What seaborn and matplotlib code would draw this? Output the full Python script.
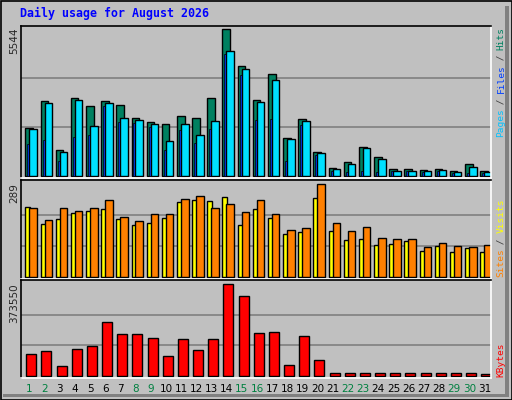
import matplotlib
matplotlib.use("Agg")
import numpy as np
import seaborn as sns
from matplotlib import pyplot as plt
import matplotlib.patches as mpatches

days = list(range(1, 32))
weekend = [1, 2, 8, 9, 15, 16, 22, 23, 29, 30]
hits = [1810, 2828, 980, 2941, 2640, 2828, 2677, 2187, 2036, 1961, 2263, 2187, 2941, 5544, 4148, 2866,
        3846, 1433, 2150, 905, 302, 528, 1094, 717, 264, 264, 226, 264, 189, 453, 189]
files = [1772, 2753, 905, 2866, 1886, 2753, 2187, 2112, 1961, 1320, 1961, 1546, 2074, 4714, 4035, 2791,
         3620, 1395, 2074, 867, 264, 453, 1056, 641, 189, 189, 189, 226, 151, 339, 151]
pages = [1207, 1358, 566, 1471, 1546, 2640, 2036, 1999, 1848, 980, 1735, 1244, 1772, 4601, 3809, 2112,
         2150, 566, 1923, 792, 189, 151, 189, 151, 189, 189, 151, 189, 113, 113, 113]
visits = [217, 164, 179, 198, 204, 211, 179, 161, 167, 183, 233, 239, 236, 248, 161, 211,
          183, 132, 139, 245, 142, 114, 117, 98, 101, 111, 79, 95, 76, 89, 76]
sites = [214, 176, 214, 204, 214, 239, 186, 173, 195, 195, 242, 251, 214, 226, 201, 239,
         195, 145, 151, 289, 167, 142, 154, 120, 117, 117, 92, 104, 95, 92, 98]
kbytes = [88615, 99521, 38172, 107701, 119970, 218128, 169049, 169049, 152690, 79071, 148600, 103611,
          148600, 373550, 324465, 173139, 177229, 42262, 160869, 62712] + [10906] * 10 + [5453]

sns.set_style("white")
plt.rcParams['font.family'] = ['DejaVu Sans']
BG = '#c0c0c0'
W, H = 512, 400
fig = plt.figure(figsize=(W / 100, H / 100), dpi=100, facecolor=BG)

# outer bevelled frame
fig.patches.append(mpatches.Rectangle((0.5 / W, 0.5 / H), 1 - 1 / W, 1 - 1 / H, transform=fig.transFigure,
                                      fill=False, ec='black', lw=1.2))
fig.patches.append(mpatches.Rectangle((505 / W, 3 / H), 4 / W, 391 / H, transform=fig.transFigure,
                                      fc='#808080', ec='none'))
fig.patches.append(mpatches.Rectangle((3 / W, 3 / H), 505 / W, 3 / H, transform=fig.transFigure,
                                      fc='#808080', ec='none'))


def panel(top, bottom, base, peak, vmax):
    ax = fig.add_axes([21 / W, 1 - bottom / H, 470 / W, (bottom - top) / H])
    k = vmax / (base - peak)
    ax.set_ylim(-(bottom - base) * k, (base - top) * k)
    ax.set_xlim(0, 31)
    ax.set_facecolor(BG)
    for s in ax.spines.values():
        s.set_color('black')
        s.set_linewidth(1.2)
    ax.spines['bottom'].set_color('white')
    ax.spines['right'].set_color('white')
    ax.set_xticks([])
    ax.set_yticks([])
    for f in (1 / 3, 2 / 3):
        ax.axhline(vmax * f, color='#808080', lw=1.2, zorder=0)
    return ax


x0 = np.arange(31)
ax1 = panel(26, 178, 176, 29, max(hits))
ax1.bar(x0 + 0.29, hits, width=0.5, align='edge', color='#008060', ec='black', lw=1)
ax1.bar(x0 + 0.42, pages, width=0.13, align='edge', color='#0040ff', ec='black', lw=0.5)
ax1.bar(x0 + 0.55, files, width=0.5, align='edge', color='#00e0ff', ec='black', lw=1)

ax2 = panel(180, 279, 276.7, 184.3, max(sites))
ax2.bar(x0 + 0.29, visits, width=0.33, align='edge', color='#ffff00', ec='black', lw=1)
ax2.bar(x0 + 0.55, sites, width=0.5, align='edge', color='#ff8000', ec='black', lw=1)

ax3 = panel(280, 378, 375.7, 284.3, max(kbytes))
ax3.bar(x0 + 0.35, kbytes, width=0.66, align='edge', color='#ff0000', ec='black', lw=1)

# day labels
for d in days:
    fig.text((21 + (d - 0.5) * 470 / 31 + 1) / W, 1 - 389 / H, str(d), ha='center', va='center', fontsize=7.5,
             color='#008040' if d in weekend else 'black')

# left max labels
for val, y in ((max(hits), 27), (max(sites), 183), (max(kbytes), 283)):
    fig.text(14 / W, 1 - y / H, str(val), rotation=90, ha='center', va='top', fontsize=7.5)

fig.text(20 / W, 1 - 13 / H, 'Daily usage for August 2026', ha='left', va='center', fontsize=8.4,
         family='DejaVu Sans Mono', weight='bold', color='#0000ff')


def vlabel(parts, y_bottom):
    step = 5.45
    y = y_bottom
    for txt, col in parts:
        fig.text(501 / W, 1 - y / H, txt, rotation=90, ha='center', va='bottom', fontsize=6.8,
                 family='DejaVu Sans Mono', color=col)
        y -= step * len(txt)


vlabel([('Pages', '#00c0ff'), (' / ', '#404040'), ('Files', '#0040ff'), (' / ', '#404040'),
        ('Hits', '#008060')], 137)
vlabel([('Sites', '#ff8000'), (' / ', '#404040'), ('Visits', '#ffff00')], 277)
vlabel([('KBytes', '#ff0000')], 377)

fig.savefig('out.png', dpi=100, facecolor=BG)
